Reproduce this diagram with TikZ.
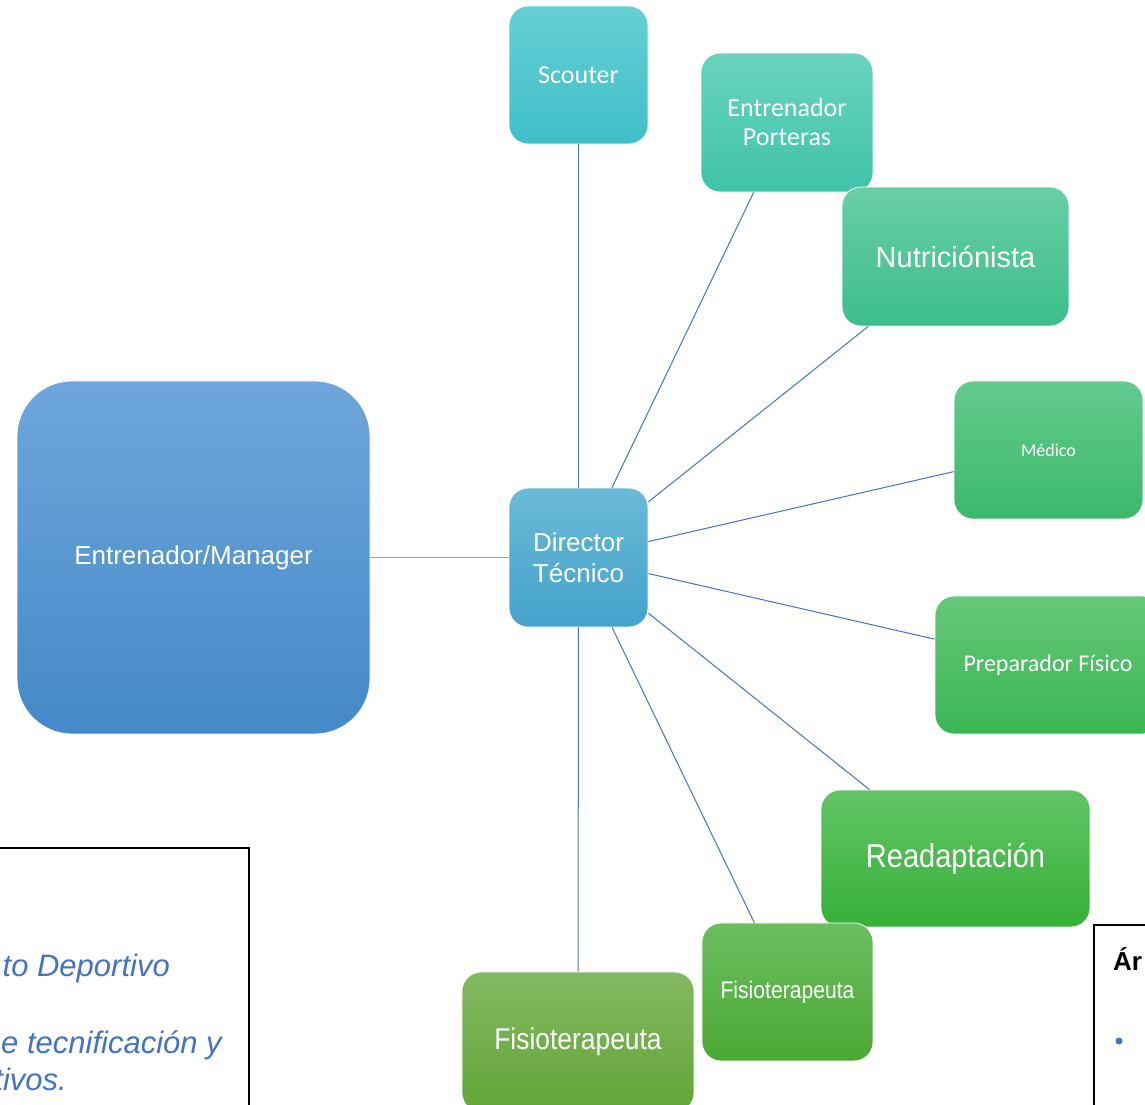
\documentclass[tikz,border=0pt]{standalone}
\usepackage{fontspec}
\setmainfont{Liberation Sans}
\newfontfamily\calib{Carlito}
\newfontfamily\narrowf[FakeStretch=0.88]{Liberation Sans}
\definecolor{mgrT}{HTML}{6FA6DB}\definecolor{mgrB}{HTML}{4489C8}
\definecolor{dirT}{HTML}{6CB9D7}\definecolor{dirB}{HTML}{43A3CB}
\definecolor{scT}{HTML}{65D0D4}\definecolor{scB}{HTML}{40BEC8}
\definecolor{epT}{HTML}{6AD3C0}\definecolor{epB}{HTML}{40C3A8}
\definecolor{nuT}{HTML}{68CEA6}\definecolor{nuB}{HTML}{3DBE8C}
\definecolor{meT}{HTML}{63CB8F}\definecolor{meB}{HTML}{3CB86A}
\definecolor{pfT}{HTML}{66C87A}\definecolor{pfB}{HTML}{39B552}
\definecolor{reT}{HTML}{63C467}\definecolor{reB}{HTML}{35B137}
\definecolor{fsT}{HTML}{6CBE5F}\definecolor{fsB}{HTML}{4BA834}
\definecolor{fbT}{HTML}{84B963}\definecolor{fbB}{HTML}{62A536}
\definecolor{linkblue}{HTML}{4472C4}
\definecolor{linkgreen}{HTML}{86C066}
\tikzset{
  box/.style={rectangle, rounded corners=19pt, draw=white, line width=0.8pt,
    inner sep=0pt, text=white, align=center},
  link/.style={draw=linkblue, line width=1pt},
}
\begin{document}
\begin{tikzpicture}[x=1pt,y=-1pt]
\useasboundingbox (0,0) rectangle (1145,1104);
% side boxes
\node[draw=black, line width=2pt, minimum width=270pt, minimum height=280pt, inner sep=0pt] (leftbox) at (114,988) {};
\node[draw=black, line width=2pt, minimum width=120pt, minimum height=220pt, inner sep=0pt] (rightbox) at (1154,1035) {};
\node[anchor=base east, text=linkblue, font=\fontsize{31}{36}\selectfont\itshape, inner sep=0pt] (lt1) at (170,976) {to Deportivo};
\node[anchor=base east, text=linkblue, font=\fontsize{31}{36}\selectfont\itshape, inner sep=0pt] (lt2) at (222,1053) {e tecnificación y};
\node[anchor=base east, text=linkblue, font=\fontsize{31}{36}\selectfont\itshape, inner sep=0pt] (lt3) at (67,1090) {tivos.};
\node[anchor=base west, font=\fontsize{26}{30}\selectfont\bfseries, inner sep=0pt] (rt1) at (1113,970) {Ár};
\node[circle, fill=linkblue, minimum size=7pt, inner sep=0pt] (bul) at (1119,1041) {};
% main boxes
\node[box, rounded corners=55pt, top color=mgrT, bottom color=mgrB, minimum width=353pt, minimum height=353pt, font=\fontsize{26}{31}\selectfont] (mgr) at (193.5,557.5) {Entrenador/Manager};
\node[box, top color=dirT, bottom color=dirB, minimum width=139pt, minimum height=139pt, font=\fontsize{26}{31}\selectfont] (dir) at (578.5,557.5) {Director\\Técnico};
\node[box, top color=scT, bottom color=scB, minimum width=139pt, minimum height=138pt, font=\calib\fontsize{26}{30}\selectfont] (sc) at (578.5,75) {Scouter};
\node[box, top color=epT, bottom color=epB, minimum width=172pt, minimum height=139pt, font=\calib\fontsize{26}{29}\selectfont] (ep) at (787,122.5) {Entrenador\\Porteras};
\node[box, top color=nuT, bottom color=nuB, minimum width=227pt, minimum height=139pt, font=\fontsize{29}{34}\selectfont] (nu) at (955.5,256.5) {Nutriciónista};
\node[box, top color=meT, bottom color=meB, minimum width=189pt, minimum height=138pt, font=\calib\fontsize{18}{22}\selectfont] (me) at (1048.5,450) {Médico};
\node[box, top color=pfT, bottom color=pfB, minimum width=226pt, minimum height=138pt, font=\calib\fontsize{24}{28}\selectfont] (pf) at (1048,665) {Preparador Físico};
\node[box, top color=reT, bottom color=reB, minimum width=269pt, minimum height=137pt, font=\narrowf\fontsize{33}{38}\selectfont] (re) at (955.5,858.5) {Readaptación};
\node[box, top color=fsT, bottom color=fsB, minimum width=171pt, minimum height=138pt, font=\narrowf\fontsize{24}{28}\selectfont] (fs) at (787.5,992) {Fisioterapeuta};
\node[box, top color=fbT, bottom color=fbB, minimum width=232pt, minimum height=140pt, font=\narrowf\fontsize{30}{34}\selectfont] (fb) at (578,1042) {Fisioterapeuta};
% connectors
\draw[draw=linkgreen, line width=1.5pt] (mgr) -- (dir);
\draw[link] (dir) -- (sc);
\draw[link] (dir) -- (ep);
\draw[link] (dir) -- (nu);
\draw[link] (dir) -- (me);
\draw[link] (dir) -- (pf);
\draw[link] (dir) -- (re);
\draw[link] (dir) -- (fs);
\draw[link] (dir) -- (fb);
\end{tikzpicture}
\end{document}
